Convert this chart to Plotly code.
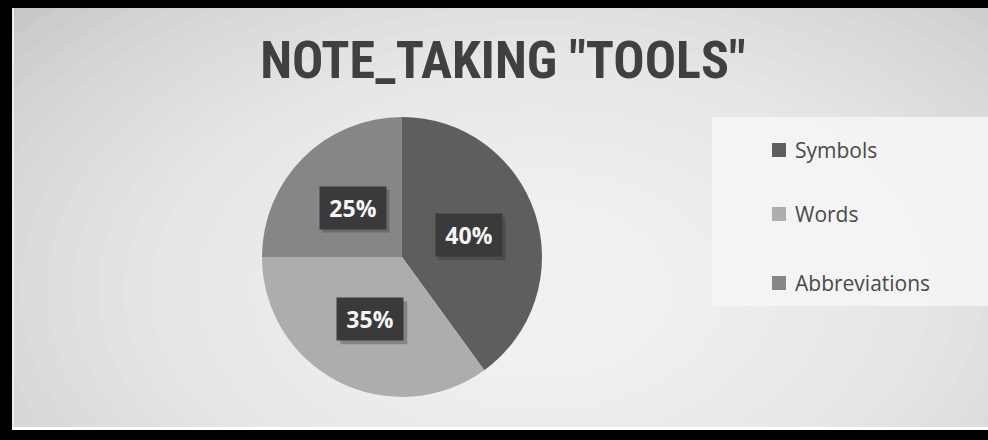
import math
import plotly.graph_objects as go

# Chart data
categories = ["Symbols", "Words", "Abbreviations"]
shares = [40, 35, 25]
slice_colors = ["#5e5e5e", "#adadad", "#868686"]
title_text = 'NOTE_TAKING "TOOLS"'

W, H = 988, 440


def px(x):
    return x / W


def py(y):
    return 1 - y / H


# Pie geometry (pixels)
CX, CY, R = 402, 257, 140

fig = go.Figure()
fig.add_trace(go.Pie(
    labels=categories,
    values=shares,
    marker=dict(colors=slice_colors, line=dict(width=0)),
    sort=False,
    direction="clockwise",
    rotation=0,
    textinfo="none",
    hoverinfo="label+percent",
    showlegend=False,
    domain=dict(x=[px(CX - R), px(CX + R)], y=[py(CY + R), py(CY - R)]),
))

shapes = []

# Radial grey-to-white background built from stacked translucent ellipses
GX, GY = 540, 290
steps = 24
for i in range(steps):
    f = 1 - i / steps
    rx = 80 + 620 * f
    ry = 60 + 360 * f
    shapes.append(dict(
        type="circle", xref="paper", yref="paper", layer="below",
        x0=px(GX - rx), x1=px(GX + rx), y0=py(GY + ry), y1=py(GY - ry),
        fillcolor="white", opacity=0.075, line=dict(width=0),
    ))

# Legend panel
shapes.append(dict(
    type="rect", xref="paper", yref="paper", layer="below",
    x0=px(712), x1=px(W), y0=py(306), y1=py(117),
    fillcolor="#f6f6f6", opacity=0.85, line=dict(width=0),
))

# Frame: black border on top, left and bottom with thin white inner edge
shapes += [
    dict(type="rect", xref="paper", yref="paper", x0=0, x1=1, y0=py(8), y1=1,
         fillcolor="black", line=dict(width=0)),
    dict(type="rect", xref="paper", yref="paper", x0=0, x1=px(12), y0=0, y1=1,
         fillcolor="black", line=dict(width=0)),
    dict(type="rect", xref="paper", yref="paper", x0=0, x1=1, y0=0, y1=py(430),
         fillcolor="black", line=dict(width=0)),
    dict(type="rect", xref="paper", yref="paper", x0=px(12), x1=1, y0=py(430), y1=py(427),
         fillcolor="white", line=dict(width=0)),
    dict(type="rect", xref="paper", yref="paper", x0=px(12), x1=px(14), y0=py(427), y1=py(8),
         fillcolor="#eeeeee", line=dict(width=0)),
]

annotations = []

# Percentage labels at half radius of each slice's mid-angle
BOX_W, BOX_H = 66, 42
total = sum(shares)
cum = 0
for val in shares:
    mid = (cum + val / 2) / total * 2 * math.pi
    cum += val
    lx = CX + 0.5 * R * math.sin(mid)
    ly = CY - 0.5 * R * math.cos(mid)
    pct = f"{round(val / total * 100)}%"
    # soft shadow behind the label box
    shapes.append(dict(
        type="rect", xref="paper", yref="paper",
        x0=px(lx - BOX_W / 2 + 3), x1=px(lx + BOX_W / 2 + 4),
        y0=py(ly + BOX_H / 2 + 4), y1=py(ly - BOX_H / 2 + 3),
        fillcolor="rgba(40,40,40,0.3)", line=dict(width=0),
    ))
    annotations.append(dict(
        x=px(lx), y=py(ly), xref="paper", yref="paper", showarrow=False,
        xanchor="center", yanchor="middle",
        text=f"<b>{pct}</b>", font=dict(family="Open Sans", size=23, color="#f6f6f6"),
        bgcolor="#3a3a3a", borderpad=0, width=BOX_W, height=BOX_H,
        align="center", valign="middle",
    ))

# Legend entries
legend_y = [150, 214, 283]
for name, col, ly in zip(categories, slice_colors, legend_y):
    shapes.append(dict(
        type="rect", xref="paper", yref="paper",
        x0=px(772), x1=px(786), y0=py(ly + 7), y1=py(ly - 7),
        fillcolor=col, line=dict(width=0),
    ))
    annotations.append(dict(
        x=px(793), y=py(ly), xref="paper", yref="paper", showarrow=False,
        xanchor="left", yanchor="middle", text=name,
        font=dict(family="Open Sans", size=21, color="#4a4a4a"),
    ))

fig.update_layout(
    width=W, height=H,
    margin=dict(l=0, r=0, t=0, b=0),
    paper_bgcolor="#c4c4c4",
    plot_bgcolor="rgba(0,0,0,0)",
    title=dict(
        text=f"<b>{title_text}</b>",
        x=px(503), xanchor="center", y=py(60), yanchor="middle", yref="paper",
        font=dict(family="Liberation Sans Narrow, Roboto Condensed, Open Sans", size=52, color="#404040"),
    ),
    shapes=shapes,
    annotations=annotations,
)

fig.write_html("out.html")
